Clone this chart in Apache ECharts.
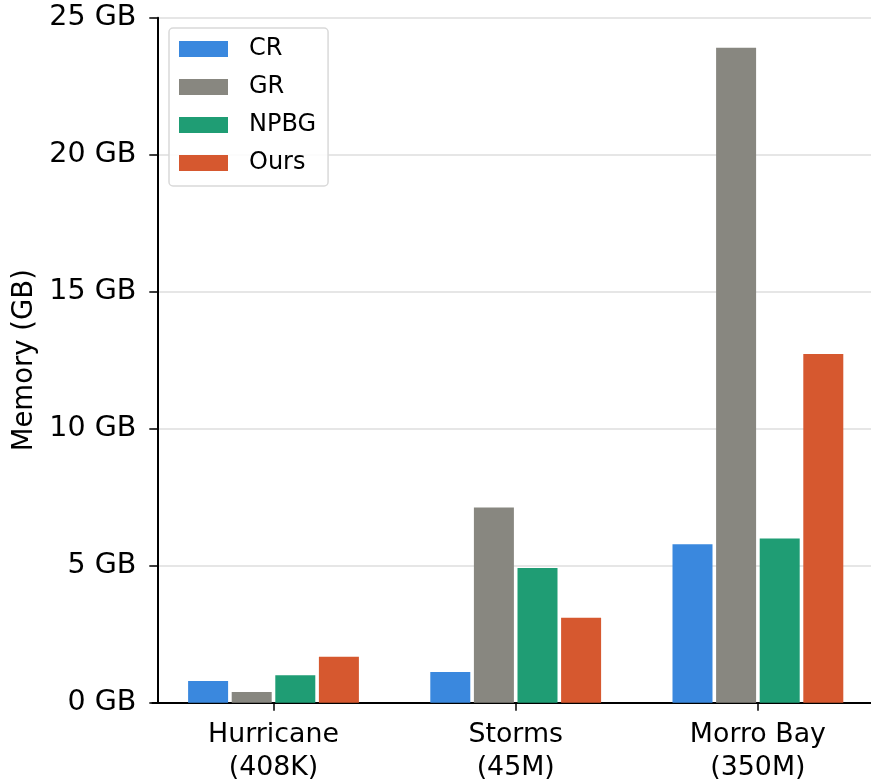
<!DOCTYPE html>
<html>
<head>
<meta charset="utf-8">
<script src="https://cdn.jsdelivr.net/npm/echarts@6/dist/echarts.min.js"></script>
<style>
html,body{margin:0;padding:0;background:#fff;}
#chart{width:871px;height:779px;}
</style>
</head>
<body>
<div id="chart"></div>
<script>
const categories = ['Hurricane\n(408K)', 'Storms\n(45M)', 'Morro Bay\n(350M)'];
const seriesNames = ['CR', 'GR', 'NPBG', 'Ours'];
const crValues = [0.79, 1.12, 5.78];
const grValues = [0.39, 7.12, 23.9];
const npbgValues = [1.0, 4.92, 5.99];
const oursValues = [1.68, 3.10, 12.73];
const yTicks = [0, 5, 10, 15, 20, 25];
const colors = ['#3A88DE', '#888780', '#1F9D74', '#D6582F'];

const FONT = 'DejaVu Sans';
const allValues = [crValues, grValues, npbgValues, oursValues];

const chart = echarts.init(document.getElementById('chart'), null, {renderer: 'canvas'});
chart.setOption({
  animation: false,
  backgroundColor: '#ffffff',
  textStyle: {fontFamily: FONT},
  grid: {left: 152.4, width: 726.6, top: 17.7, height: 685, containLabel: false, outerBoundsMode: 'none'},
  legend: {
    orient: 'vertical',
    left: 169,
    top: 28,
    padding: [9, 12, 11, 10],
    itemWidth: 49,
    itemHeight: 16,
    itemGap: 14,
    icon: 'rect',
    backgroundColor: 'rgba(255,255,255,0.85)',
    borderColor: '#d9d9d9',
    borderWidth: 1.5,
    borderRadius: 4,
    textStyle: {fontFamily: FONT, fontSize: 24, color: '#000', lineHeight: 24, padding: [0, 0, 0, 16]},
    data: seriesNames
  },
  xAxis: {
    type: 'category',
    data: categories,
    axisLine: {show: true, lineStyle: {color: '#000', width: 2}},
    axisTick: {show: true, alignWithLabel: true, length: 8, lineStyle: {color: '#000', width: 1.5}},
    axisLabel: {fontFamily: FONT, fontSize: 26.8, color: '#000', lineHeight: 33, margin: 16, interval: 0},
    splitLine: {show: false}
  },
  yAxis: {
    type: 'value',
    min: yTicks[0],
    max: yTicks[yTicks.length - 1],
    interval: 5,
    offset: -4.9,
    name: 'Memory (GB)',
    nameLocation: 'middle',
    nameGap: 112,
    nameTextStyle: {fontFamily: FONT, fontSize: 27.5, color: '#000'},
    axisLine: {show: true, lineStyle: {color: '#000', width: 2}},
    axisTick: {show: true, length: 8, lineStyle: {color: '#000', width: 1.5}},
    axisLabel: {fontFamily: FONT, fontSize: 28.5, color: '#000', margin: 21, formatter: '{value} GB'},
    splitLine: {show: true, lineStyle: {color: '#dedede', width: 1.5}}
  },
  series: seriesNames.map((name, i) => ({
    name: name,
    type: 'bar',
    data: allValues[i],
    barWidth: 40,
    barGap: '9%',
    itemStyle: {color: colors[i]},
    z: 2
  }))
});
</script>
</body>
</html>
